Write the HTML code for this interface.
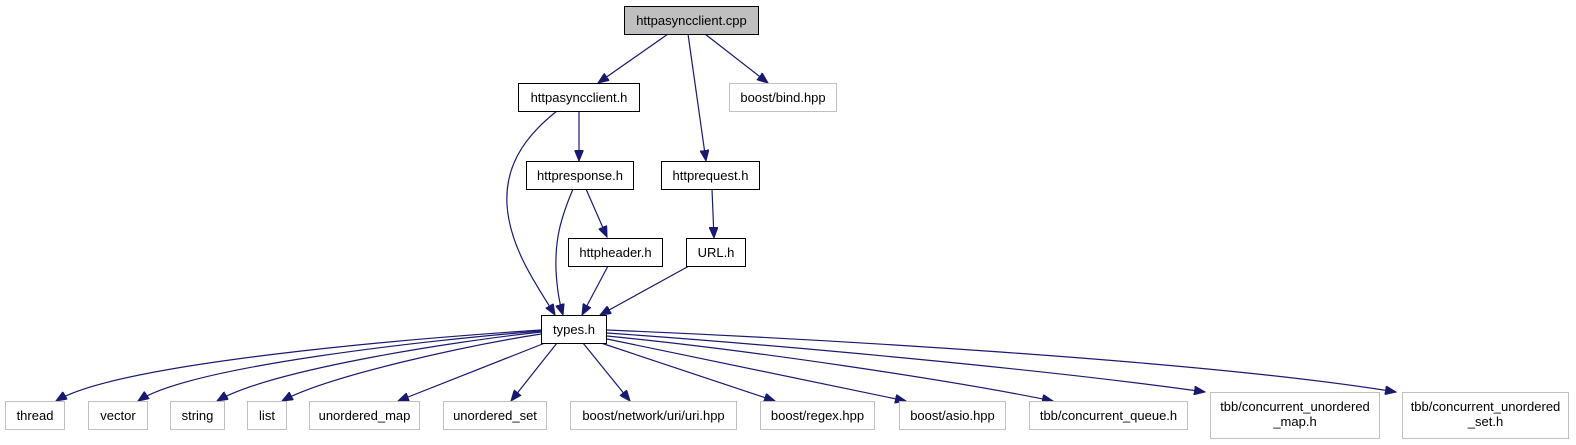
<!DOCTYPE html>
<html><head><meta charset="utf-8"><style>
html,body{margin:0;padding:0;background:#fff;}
svg{display:block;}
text{font-family:"Liberation Sans",Arial,sans-serif;font-size:13px;fill:#000;}
</style></head><body>
<svg width="1576" height="445" viewBox="0 0 1576 445" xmlns="http://www.w3.org/2000/svg">
<defs>
<marker id="a" markerWidth="12" markerHeight="9" refX="11" refY="4.5" orient="auto" markerUnits="userSpaceOnUse">
<path d="M0,0 L11,4.5 L0,9 Z" fill="#191970" stroke="#191970" stroke-width="1"/>
</marker>
</defs>
<g fill="none" stroke="#191970" stroke-width="1.2" marker-end="url(#a)">
<path d="M668,34 L598,83"/>
<path d="M688,34 L706,161"/>
<path d="M705,34 L768,83"/>
<path d="M579,111 L579,161"/>
<path d="M557,111 C520,140 505,170 507,205 C510,250 540,290 555,315"/>
<path d="M573,189 C560,220 555,240 556,270 C557,290 560,305 563,315"/>
<path d="M586,189 L607,237"/>
<path d="M712,189 L714,238"/>
<path d="M608,266 L582,315"/>
<path d="M689,266 L600,315"/>
<path d="M541,330 C420,338 120,362 56,401"/>
<path d="M541,331 C430,340 190,366 138,401"/>
<path d="M541,332 C450,342 270,370 217,401"/>
<path d="M541,334 C470,345 330,375 282,401"/>
<path d="M545,343 L398,401"/>
<path d="M557,343 L511,401"/>
<path d="M583,343 L630,401"/>
<path d="M601,343 L775,401"/>
<path d="M607,339 L906,401"/>
<path d="M607,336 C750,350 950,380 1053,401"/>
<path d="M607,333 C780,345 1050,370 1205,392"/>
<path d="M607,330 C800,338 1200,360 1396,392"/>
</g>
<g stroke-width="1" >
<rect x="624.5" y="6.5" width="134" height="28" fill="#bfbfbf" stroke="#000"/>
<rect x="518.5" y="83.5" width="121" height="28" fill="#fff" stroke="#000"/>
<rect x="729.5" y="83.5" width="107" height="28" fill="#fff" stroke="#bfbfbf"/>
<rect x="526.5" y="161.5" width="107" height="28" fill="#fff" stroke="#000"/>
<rect x="661.5" y="161.5" width="98" height="28" fill="#fff" stroke="#000"/>
<rect x="568.5" y="238.5" width="94" height="28" fill="#fff" stroke="#000"/>
<rect x="686.5" y="238.5" width="59" height="28" fill="#fff" stroke="#000"/>
<rect x="541.5" y="315.5" width="65" height="28" fill="#fff" stroke="#000"/>
<g fill="#fff" stroke="#bfbfbf">
<rect x="5.5" y="401.5" width="59" height="28"/>
<rect x="88.5" y="401.5" width="59" height="28"/>
<rect x="170.5" y="401.5" width="54" height="28"/>
<rect x="247.5" y="401.5" width="39" height="28"/>
<rect x="309.5" y="401.5" width="110" height="28"/>
<rect x="443.5" y="401.5" width="103" height="28"/>
<rect x="570.5" y="401.5" width="166" height="28"/>
<rect x="760.5" y="401.5" width="114" height="28"/>
<rect x="899.5" y="401.5" width="106" height="28"/>
<rect x="1029.5" y="401.5" width="158" height="28"/>
<rect x="1210.5" y="392.5" width="169" height="46"/>
<rect x="1402.5" y="392.5" width="166" height="46"/>
</g>
</g>
<g text-anchor="middle">
<text x="691.5" y="25">httpasyncclient.cpp</text>
<text x="579" y="102">httpasyncclient.h</text>
<text x="783" y="102">boost/bind.hpp</text>
<text x="580" y="180">httpresponse.h</text>
<text x="710.5" y="180">httprequest.h</text>
<text x="615.5" y="257">httpheader.h</text>
<text x="716" y="257">URL.h</text>
<text x="574" y="334">types.h</text>
<text x="35" y="420">thread</text>
<text x="118" y="420">vector</text>
<text x="197.5" y="420">string</text>
<text x="267" y="420">list</text>
<text x="364.5" y="420">unordered_map</text>
<text x="495" y="420">unordered_set</text>
<text x="653.5" y="420">boost/network/uri/uri.hpp</text>
<text x="817.5" y="420">boost/regex.hpp</text>
<text x="952.5" y="420">boost/asio.hpp</text>
<text x="1108.5" y="420">tbb/concurrent_queue.h</text>
<text x="1295" y="411">tbb/concurrent_unordered</text>
<text x="1295" y="426">_map.h</text>
<text x="1485.5" y="411">tbb/concurrent_unordered</text>
<text x="1485.5" y="426">_set.h</text>
</g>
</svg>
</body></html>
